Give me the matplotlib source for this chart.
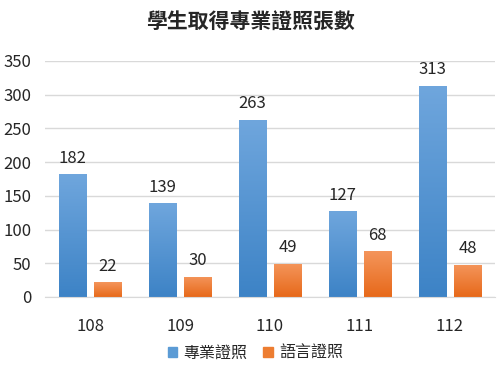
import numpy as np
import matplotlib
matplotlib.use("Agg")
import matplotlib.pyplot as plt
from matplotlib.colors import LinearSegmentedColormap
from matplotlib.patches import Patch

plt.rcParams['font.family'] = ['Noto Sans CJK TC', 'DejaVu Sans']

# data
years = ["108", "109", "110", "111", "112"]
pro_cert = [182, 139, 263, 127, 313]
lang_cert = [22, 30, 49, 68, 48]
series_names = ["專業證照", "語言證照"]
title = "學生取得專業證照張數"

blue_cmap = LinearSegmentedColormap.from_list("b", ["#3d83c6", "#6fa6dd"])
orange_cmap = LinearSegmentedColormap.from_list("o", ["#e7691a", "#f4955b"])

fig = plt.figure(figsize=(5.01, 3.74), dpi=100)
ax = fig.add_axes([0.09, 0.206, 0.898, 0.631])

x = np.arange(len(years))
w = 0.31
off = 0.195

grad = np.linspace(0, 1, 100).reshape(-1, 1)

def draw_bars(xpos, vals, cmap, color, label):
	bars = ax.bar(xpos, vals, w, color=color, label=label, zorder=2)
	for b in bars:
		b.set_facecolor("none")
		b.set_edgecolor("none")
		x0, y0 = b.get_x(), b.get_y()
		im = ax.imshow(grad, cmap=cmap, origin="lower", aspect="auto",
			extent=[x0, x0 + b.get_width(), y0, y0 + b.get_height()], zorder=2)
		im.set_clip_path(b)
	for xi, v in zip(xpos, vals):
		ax.text(xi, v + 11, str(v), ha="center", va="bottom", fontsize=12, color="#262626")
	return bars

draw_bars(x - off, pro_cert, blue_cmap, "#5b9bd5", series_names[0])
draw_bars(x + off, lang_cert, orange_cmap, "#ed7d31", series_names[1])

ax.set_xlim(-0.5, len(years) - 0.5)
ax.set_ylim(0, 350)
ax.set_yticks(np.arange(0, 351, 50))
ax.set_xticks(x)
ax.set_xticklabels(years)
ax.grid(axis="y", color="#d9d9d9", linewidth=1, zorder=0)
ax.set_axisbelow(True)
for s in ["top", "right", "left"]:
	ax.spines[s].set_visible(False)
ax.spines["bottom"].set_color("#d9d9d9")
ax.tick_params(axis="both", length=0, labelsize=12, colors="#262626")
ax.tick_params(axis="x", pad=15)
ax.tick_params(axis="y", pad=10)

fig.text(0.5, 0.94, title, ha="center", va="center", fontsize=15, fontweight="bold", color="#262626")

handles = [Patch(color="#5b9bd5"), Patch(color="#ed7d31")]
fig.legend(handles, series_names, loc="center", bbox_to_anchor=(0.51, 0.055), ncol=2,
	frameon=False, fontsize=11.5, handlelength=0.6, handleheight=0.6, handletextpad=0.4,
	columnspacing=1.0, labelcolor="#262626")

fig.savefig("out.png", dpi=100)
